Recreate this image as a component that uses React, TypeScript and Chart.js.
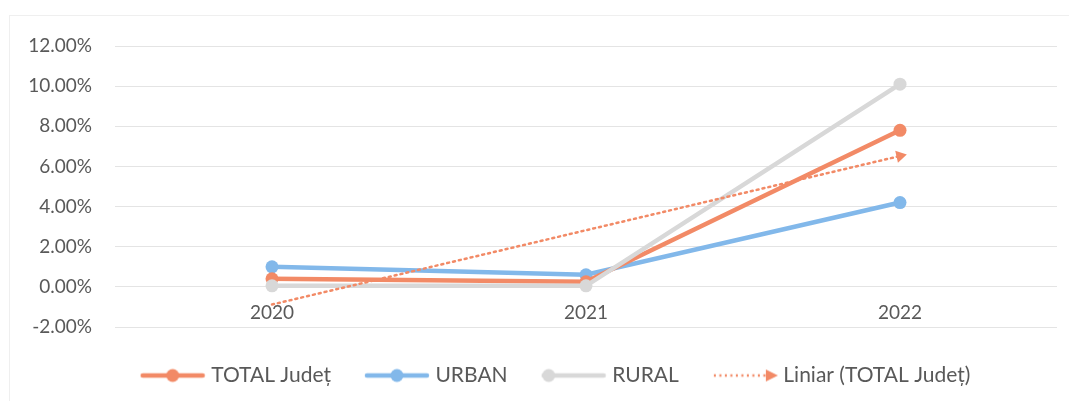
import React, { useEffect, useRef } from "react";
import { Chart, registerables } from "chart.js";

Chart.register(...registerables);

const categories = ["2020", "2021", "2022"];
const totalJudet = [0.4, 0.25, 7.8];
const urban = [1.0, 0.6, 4.2];
const rural = [0.05, 0.05, 10.1];
const trendTotal = [-0.88, 2.82, 6.52];
const yTicks = [-2, 0, 2, 4, 6, 8, 10, 12];

const seriesNames = ["TOTAL Județ", "URBAN", "RURAL", "Liniar (TOTAL Județ)"];

const ORANGE = "#F28A66";
const BLUE = "#82B8EA";
const GRAY = "#D8D8D8";
const TEXT = "#595959";
const FONT = "Lato, 'Open Sans', sans-serif";

const PAD_LEFT = 10;
const AREA_LEFT = 115;
const LEGEND_SHIFT_X = 24;
const LEGEND_SHIFT_Y = 0;

function legendImage(color: string, kind: "center" | "left" | "trend") {
  const c = document.createElement("canvas");
  c.width = 66;
  c.height = 16;
  const ctx = c.getContext("2d")!;
  ctx.strokeStyle = color;
  ctx.fillStyle = color;
  if (kind === "trend") {
    ctx.lineWidth = 2.5;
    ctx.setLineDash([2, 3.5]);
    ctx.beginPath();
    ctx.moveTo(2, 8);
    ctx.lineTo(54, 8);
    ctx.stroke();
    ctx.setLineDash([]);
    ctx.beginPath();
    ctx.moveTo(54, 2);
    ctx.lineTo(66, 8);
    ctx.lineTo(54, 14);
    ctx.closePath();
    ctx.fill();
  } else {
    ctx.lineWidth = 4.5;
    ctx.lineCap = "round";
    ctx.beginPath();
    ctx.moveTo(3, 8);
    ctx.lineTo(63, 8);
    ctx.stroke();
    ctx.beginPath();
    ctx.arc(kind === "left" ? 8 : 33, 8, 6.5, 0, Math.PI * 2);
    ctx.fill();
  }
  return c;
}

const legendShift = {
  id: "legendShift",
  afterLayout(chart: any) {
    const lg = chart.legend;
    if (!lg) return;
    lg.left += LEGEND_SHIFT_X;
    lg.right += LEGEND_SHIFT_X;
    lg.top += LEGEND_SHIFT_Y;
    lg.bottom += LEGEND_SHIFT_Y;
  },
};

export default function App() {
  const ref = useRef<HTMLCanvasElement | null>(null);

  useEffect(() => {
    if (!ref.current) return;
    const images = [
      legendImage(ORANGE, "center"),
      legendImage(BLUE, "center"),
      legendImage(GRAY, "left"),
      legendImage(ORANGE, "trend"),
    ];
    const lineDs = (label: string, data: number[], color: string, order: number) => ({
      label,
      data,
      borderColor: color,
      backgroundColor: color,
      borderWidth: 4.5,
      pointRadius: 6.5,
      pointHoverRadius: 6.5,
      pointBorderWidth: 0,
      pointBackgroundColor: color,
      tension: 0,
      order,
    });
    const chart = new Chart(ref.current, {
      type: "line",
      plugins: [legendShift],
      data: {
        labels: categories,
        datasets: [
          lineDs(seriesNames[0], totalJudet, ORANGE, 2),
          lineDs(seriesNames[1], urban, BLUE, 3),
          lineDs(seriesNames[2], rural, GRAY, 1),
          {
            label: seriesNames[3],
            data: trendTotal,
            borderColor: ORANGE,
            backgroundColor: ORANGE,
            borderWidth: 2.5,
            borderDash: [2, 4],
            borderCapStyle: "round",
            pointRadius: [0, 0, 7],
            pointHoverRadius: [0, 0, 7],
            pointStyle: "triangle",
            rotation: 77,
            pointBorderWidth: 0,
            pointBackgroundColor: ORANGE,
            order: 0,
          } as any,
        ],
      },
      options: {
        animation: false,
        responsive: true,
        maintainAspectRatio: false,
        layout: { padding: { left: PAD_LEFT, right: 12, top: 46, bottom: 5 } },
        plugins: {
          tooltip: { enabled: false },
          legend: {
            position: "bottom",
            labels: {
              usePointStyle: true,
              pointStyleWidth: 56,
              padding: 38,
              color: TEXT,
              font: { family: FONT, size: 21 },
              sort: (a: any, b: any) => a.datasetIndex - b.datasetIndex,
              generateLabels: (ch: any) => {
                const items = Chart.defaults.plugins.legend.labels.generateLabels(ch);
                return items.map((it: any) => ({
                  ...it,
                  pointStyle: images[it.datasetIndex],
                  rotation: 0,
                }));
              },
            },
          },
        },
        scales: {
          x: {
            position: { y: 0 } as any,
            offset: true,
            grid: { display: false },
            border: { display: false },
            ticks: { color: TEXT, font: { family: FONT, size: 19 }, padding: 7 },
          },
          y: {
            min: -2,
            max: 12,
            afterBuildTicks: (axis: any) => {
              axis.ticks = yTicks.map((v) => ({ value: v }));
            },
            afterFit: (axis: any) => {
              axis.width = AREA_LEFT - PAD_LEFT;
            },
            grid: { color: "#E4E4E4", lineWidth: 1, drawTicks: false },
            border: { display: false },
            ticks: {
              color: TEXT,
              font: { family: FONT, size: 19 },
              padding: 23,
              callback: (v: any) => Number(v).toFixed(2) + "%",
            },
          },
        },
      },
    });
    return () => chart.destroy();
  }, []);

  return (
    <div
      style={{
        position: "fixed",
        left: 0,
        top: 0,
        width: 1069,
        height: 401,
        background: "#fff",
      }}
    >
      <div
        style={{
          position: "absolute",
          left: 9,
          top: 15,
          right: 0,
          bottom: 0,
          borderLeft: "1px solid #EFEFEF",
          borderTop: "1px solid #EFEFEF",
        }}
      />
      <canvas ref={ref} style={{ position: "absolute", left: 0, top: 0 }} />
    </div>
  );
}
